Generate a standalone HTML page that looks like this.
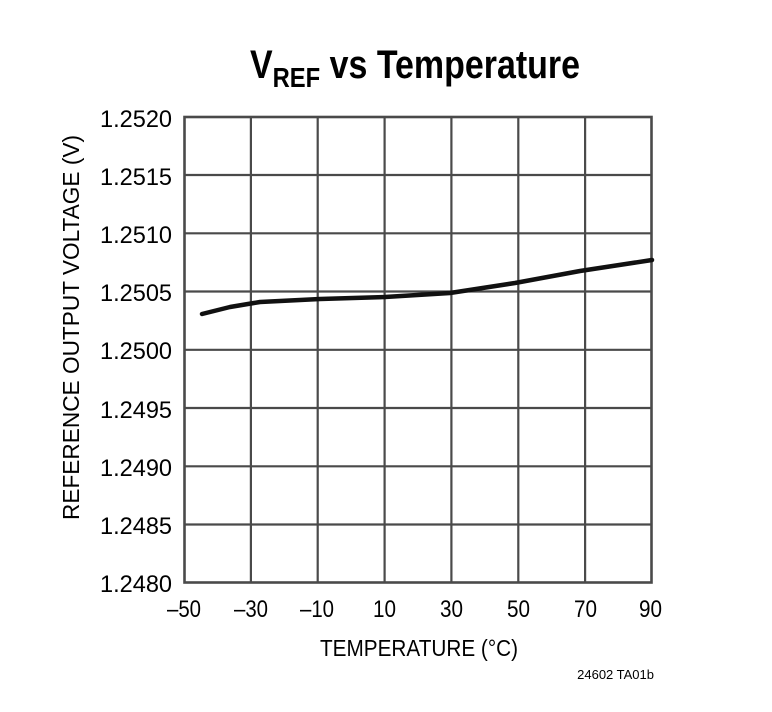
<!DOCTYPE html>
<html><head><style>body{margin:0;background:#fff}</style></head><body>
<svg width="772" height="707" xmlns="http://www.w3.org/2000/svg" font-family="Liberation Sans, sans-serif">
<rect width="772" height="707" fill="#fff"/>
<text x="250" y="78" font-size="40" font-weight="bold" textLength="330" lengthAdjust="spacingAndGlyphs">V<tspan font-size="28" dy="9">REF</tspan><tspan dy="-9"> vs Temperature</tspan></text>
<g stroke="#4a4a4a" stroke-width="2.2">
<line x1="250.9" y1="117" x2="250.9" y2="582"/><line x1="317.7" y1="117" x2="317.7" y2="582"/>
<line x1="384.6" y1="117" x2="384.6" y2="582"/><line x1="451.4" y1="117" x2="451.4" y2="582"/>
<line x1="518.3" y1="117" x2="518.3" y2="582"/><line x1="585.1" y1="117" x2="585.1" y2="582"/>
<line x1="184" y1="175" x2="652" y2="175"/><line x1="184" y1="233.3" x2="652" y2="233.3"/>
<line x1="184" y1="291.5" x2="652" y2="291.5"/><line x1="184" y1="349.8" x2="652" y2="349.8"/>
<line x1="184" y1="408" x2="652" y2="408"/><line x1="184" y1="466.3" x2="652" y2="466.3"/>
<line x1="184" y1="524.5" x2="652" y2="524.5"/>
<rect x="184.5" y="117" width="467" height="465.5" fill="none" stroke-width="2.6"/>
</g>
<polyline fill="none" stroke="#111" stroke-width="4.5" stroke-linecap="round" stroke-linejoin="round" points="202,314 230,307 260,302 320,299 385,297 450,293 515,283 580,271 652,260"/>
<g font-size="24">
<text x="100" y="127" textLength="72" lengthAdjust="spacingAndGlyphs">1.2520</text>
<text x="100" y="185" textLength="72" lengthAdjust="spacingAndGlyphs">1.2515</text>
<text x="100" y="243" textLength="72" lengthAdjust="spacingAndGlyphs">1.2510</text>
<text x="100" y="301" textLength="72" lengthAdjust="spacingAndGlyphs">1.2505</text>
<text x="100" y="359" textLength="72" lengthAdjust="spacingAndGlyphs">1.2500</text>
<text x="100" y="418" textLength="72" lengthAdjust="spacingAndGlyphs">1.2495</text>
<text x="100" y="476" textLength="72" lengthAdjust="spacingAndGlyphs">1.2490</text>
<text x="100" y="534" textLength="72" lengthAdjust="spacingAndGlyphs">1.2485</text>
<text x="100" y="592" textLength="72" lengthAdjust="spacingAndGlyphs">1.2480</text>
</g>
<g font-size="24">
<text x="167" y="617" textLength="34" lengthAdjust="spacingAndGlyphs">–50</text>
<text x="234" y="617" textLength="34" lengthAdjust="spacingAndGlyphs">–30</text>
<text x="300" y="617" textLength="34" lengthAdjust="spacingAndGlyphs">–10</text>
<text x="373" y="617" textLength="23" lengthAdjust="spacingAndGlyphs">10</text>
<text x="440" y="617" textLength="23" lengthAdjust="spacingAndGlyphs">30</text>
<text x="507" y="617" textLength="23" lengthAdjust="spacingAndGlyphs">50</text>
<text x="574" y="617" textLength="23" lengthAdjust="spacingAndGlyphs">70</text>
<text x="639" y="617" textLength="23" lengthAdjust="spacingAndGlyphs">90</text>
<text x="320" y="656" font-size="23" textLength="198" lengthAdjust="spacingAndGlyphs">TEMPERATURE (°C)</text>
<text transform="translate(79,520) rotate(-90)" font-size="23" textLength="385" lengthAdjust="spacingAndGlyphs">REFERENCE OUTPUT VOLTAGE (V)</text>
</g>
<text x="654" y="679" font-size="13" text-anchor="end">24602 TA01b</text>
</svg>
</body></html>
